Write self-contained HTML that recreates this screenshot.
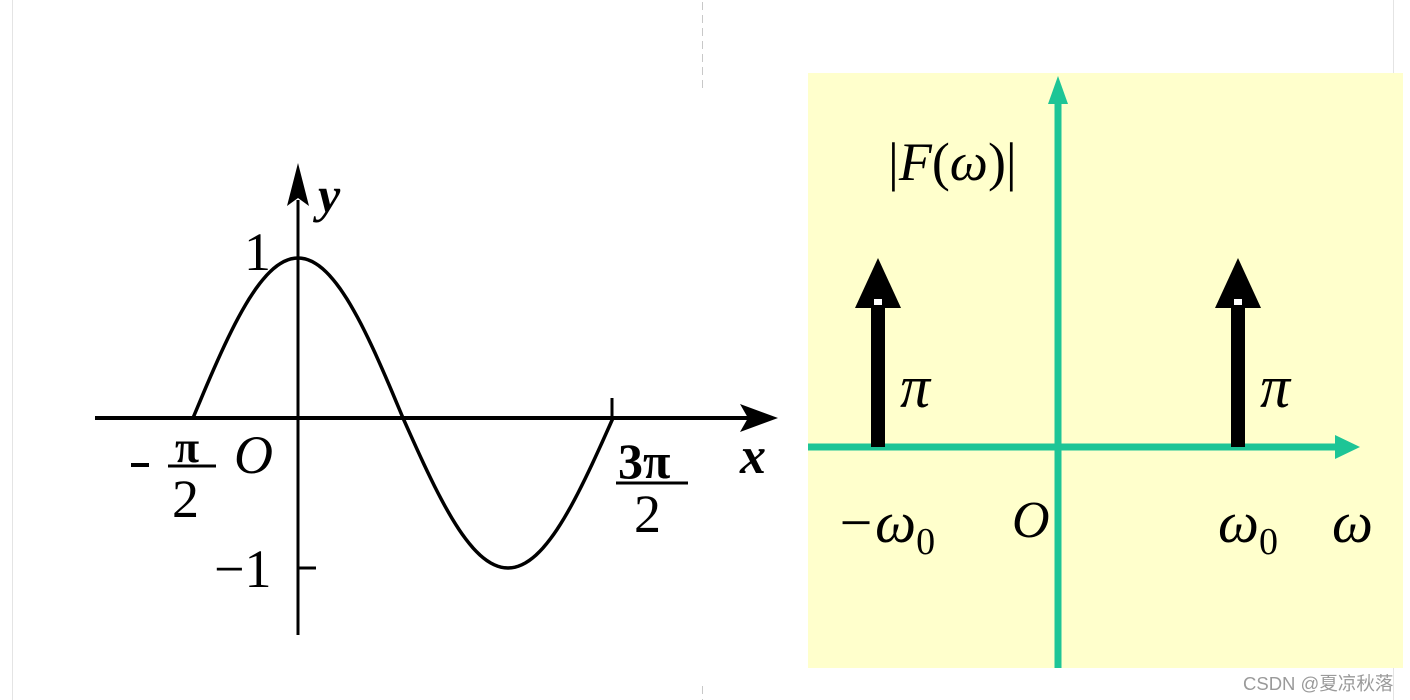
<!DOCTYPE html>
<html><head><meta charset="utf-8"><style>
html,body{margin:0;padding:0;background:#fff;}
svg{display:block;}
.s{font-family:"Liberation Serif",serif;}
</style></head><body>
<svg id="g" width="1410" height="700" viewBox="0 0 1410 700" xmlns="http://www.w3.org/2000/svg">
<rect width="1410" height="700" fill="#fff"/>
<line x1="12.5" y1="0" x2="12.5" y2="700" stroke="#e4e4e4" stroke-width="1"/>
<line x1="1393.5" y1="0" x2="1393.5" y2="700" stroke="#e4e4e4" stroke-width="1"/>
<line x1="702.5" y1="2" x2="702.5" y2="88" stroke="#c8c8c8" stroke-width="1" stroke-dasharray="8,5"/>
<line x1="702.5" y1="686" x2="702.5" y2="700" stroke="#c8c8c8" stroke-width="1" stroke-dasharray="8,5"/>

<!-- left plot -->
<line x1="95" y1="418" x2="755" y2="418" stroke="#000" stroke-width="4"/>
<polygon points="778,418 740,404 748,418 740,432" fill="#000"/>
<line x1="298" y1="200" x2="298" y2="635" stroke="#000" stroke-width="3"/>
<polygon points="298,163 287,206 298,198 309,206" fill="#000"/>
<line x1="298" y1="568" x2="316" y2="568" stroke="#000" stroke-width="3"/>
<line x1="612" y1="398" x2="612" y2="418" stroke="#000" stroke-width="3"/>
<path id="cv" d="" fill="none" stroke="#000" stroke-width="3.5"/>
<text class="s" x="318" y="212" font-size="50" font-style="italic" font-weight="bold">y</text>
<text class="s" x="244" y="270" font-size="54">1</text>
<text class="s" x="214" y="587" font-size="54">−1</text>
<text class="s" x="234" y="473" font-size="54" font-style="italic">O</text>
<text class="s" x="740" y="473" font-size="52" font-style="italic" font-weight="bold">x</text>
<rect x="131" y="463" width="18" height="4" fill="#000"/>
<text class="s" x="175" y="462" font-size="44" font-weight="bold">π</text>
<line x1="168" y1="466" x2="216" y2="466" stroke="#000" stroke-width="3"/>
<text class="s" x="172" y="517" font-size="54">2</text>
<text class="s" x="618" y="478" font-size="50" font-weight="bold">3π</text>
<line x1="616" y1="483" x2="688" y2="483" stroke="#000" stroke-width="3"/>
<text class="s" x="634" y="532" font-size="54">2</text>

<!-- right plot -->
<rect x="808" y="73" width="595" height="595" fill="#ffffcc"/>
<line x1="1058" y1="95" x2="1058" y2="668" stroke="#1ec596" stroke-width="7"/>
<polygon points="1058,76 1048,104 1068,104" fill="#1ec596"/>
<line x1="808" y1="447" x2="1340" y2="447" stroke="#1ec596" stroke-width="7"/>
<polygon points="1360,447 1335,435 1335,459" fill="#1ec596"/>
<rect x="871" y="300" width="14" height="147" fill="#000"/>
<polygon points="878,258 855,308 901,308" fill="#000"/>
<rect x="874" y="299" width="8" height="6" fill="#fff"/>
<rect x="1231" y="300" width="14" height="147" fill="#000"/>
<polygon points="1238,258 1215,308 1261,308" fill="#000"/>
<rect x="1234" y="299" width="8" height="6" fill="#fff"/>
<text class="s" x="888" y="180" font-size="54"><tspan>|</tspan><tspan font-style="italic">F</tspan><tspan>(</tspan><tspan font-style="italic">ω</tspan><tspan>)|</tspan></text>
<text class="s" x="900" y="407" font-size="60" font-style="italic">π</text>
<text class="s" x="1260" y="407" font-size="60" font-style="italic">π</text>
<text class="s" x="836" y="542" font-size="58" font-style="italic">−ω<tspan font-size="38" font-style="normal" dy="12">0</tspan></text>
<text class="s" x="1012" y="537" font-size="52" font-style="italic">O</text>
<text class="s" x="1218" y="542" font-size="58" font-style="italic">ω<tspan font-size="38" font-style="normal" dy="12">0</tspan></text>
<text class="s" x="1332" y="542" font-size="58" font-style="italic">ω</text>

<text x="1243" y="690" font-family="'Liberation Sans','Noto Sans CJK SC',sans-serif" font-size="18.5" fill="#9a9a9a">CSDN @夏凉秋落</text>
</svg>
<script>
var d="",n=120;
for(var i=0;i<=n;i++){var t=-Math.PI/2+2*Math.PI*i/n;var c=Math.cos(t);
var x=298+t*210/Math.PI;var y=418-(c>0?160:150)*c;d+=(i?"L":"M")+x.toFixed(2)+","+y.toFixed(2);}
document.getElementById("cv").setAttribute("d",d);
</script>
</body></html>
